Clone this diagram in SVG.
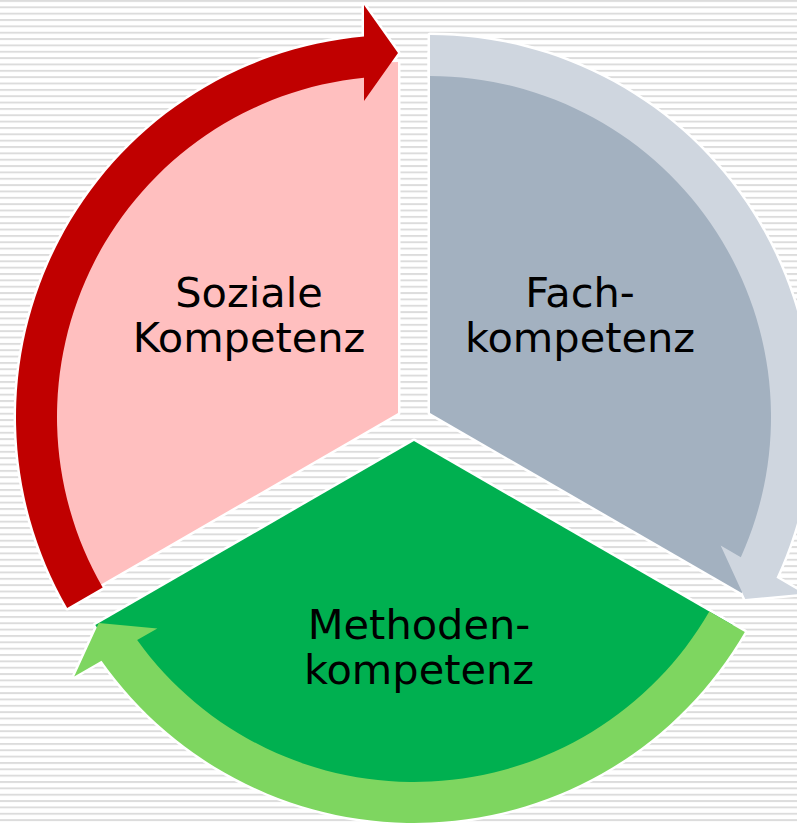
<svg xmlns="http://www.w3.org/2000/svg" xmlns:xlink="http://www.w3.org/1999/xlink" width="797" height="825" viewBox="0 0 797 825">
  <style>
    .lbl { font-family: "DejaVu Sans", Verdana, sans-serif; font-size: 41.5px; fill: #000; text-anchor: middle; }
    .halo { fill: none; stroke: #fff; stroke-width: 5; stroke-linejoin: round; }
  </style>
  <defs>
    <!-- striped slide background -->
    <pattern id="stripes" x="0" y="0" width="797" height="6.35" patternUnits="userSpaceOnUse">
      <rect width="797" height="6.35" fill="#fff"/>
      <rect y="0" width="797" height="1.9" fill="#dcdcdc"/>
    </pattern>
    <!-- segment shapes (exploded pie, 120 degrees each) -->
    <path id="seg-soziale" d="M 398 413 L 94.02 588.5 A 351 351 0 0 1 398 62 Z"/>
    <path id="seg-fach" d="M 430 413 L 430 53 A 360 360 0 0 1 741.77 593 Z"/>
    <path id="seg-methoden" d="M 414 441 L 732.7 625 A 368 368 0 0 1 95.3 625 Z"/>
    <!-- circular arrows around each segment -->
    <path id="arr-soziale" d="M 67.18 608 A 382 382 0 0 1 364 36.52 L 364 5 L 398 53 L 364 101 L 364 77.7 A 341 341 0 0 0 102.69 587.5 Z"/>
    <path id="arr-fach" d="M 430 35 A 382 382 0 0 1 776.5 577.8 L 803.8 593.56 L 745.23 599 L 720.66 545.56 L 740.84 557.21 A 341 341 0 0 0 430 76 Z"/>
    <path id="arr-methoden" d="M 744.82 632 A 382 382 0 0 1 101.5 660.68 L 74.2 676.44 L 98.77 623 L 157.34 628.44 L 137.16 640.09 A 341 341 0 0 0 709.31 611.5 Z"/>
  </defs>

  <rect width="797" height="825" fill="url(#stripes)"/>

  <!-- white outline under every shape -->
  <g id="outline" class="halo">
    <use xlink:href="#seg-soziale"/>
    <use xlink:href="#seg-fach"/>
    <use xlink:href="#seg-methoden"/>
    <use xlink:href="#arr-soziale"/>
    <use xlink:href="#arr-fach"/>
    <use xlink:href="#arr-methoden"/>
  </g>

  <g id="soziale">
    <use xlink:href="#seg-soziale" fill="#FFBFBF"/>
    <text class="lbl" x="249" y="306.5">Soziale</text>
    <text class="lbl" x="249" y="352">Kompetenz</text>
  </g>

  <g id="fach">
    <use xlink:href="#seg-fach" fill="#A3B1C0"/>
    <text class="lbl" x="580" y="306.5">Fach-</text>
    <text class="lbl" x="580" y="352">kompetenz</text>
  </g>

  <g id="methoden">
    <use xlink:href="#seg-methoden" fill="#00B050"/>
    <text class="lbl" x="419" y="639">Methoden-</text>
    <text class="lbl" x="419" y="684">kompetenz</text>
  </g>

  <g id="connectors">
    <use xlink:href="#arr-soziale" fill="#C00000"/>
    <use xlink:href="#arr-fach" fill="#CFD6DF"/>
    <use xlink:href="#arr-methoden" fill="#7ED660"/>
  </g>
</svg>
